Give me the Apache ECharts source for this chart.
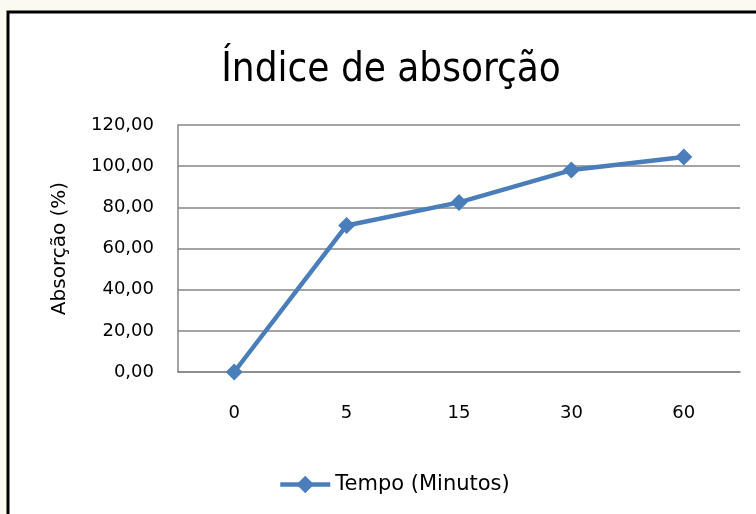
<!DOCTYPE html>
<html>
<head>
<meta charset="utf-8">
<script src="https://cdn.jsdelivr.net/npm/echarts@6/dist/echarts.min.js"></script>
<style>
  html, body { margin: 0; padding: 0; background: #fbfaf0; }
  #chart { width: 756px; height: 514px; }
</style>
</head>
<body>
<div id="chart"></div>
<script>
// dados
var categorias = ['0', '5', '15', '30', '60']
var absorcao = [0, 71.2, 82.4, 98.1, 104.4]
var yTicks = [0, 20, 40, 60, 80, 100, 120]

var myChart = echarts.init(document.getElementById('chart'))

var option = {
  animation: false,
  backgroundColor: 'transparent',
  graphic: [{
    type: 'rect',
    z: -10,
    shape: { x: 8, y: 12, width: 800, height: 600 },
    style: { fill: '#ffffff', stroke: '#000000', lineWidth: 3 }
  }],
  title: {
    text: 'Índice de absorção',
    left: 386,
    top: 46,
    textAlign: 'center',
    textStyle: {
      fontFamily: 'Liberation Sans Narrow, DejaVu Sans Condensed, sans-serif',
      fontSize: 40,
      fontWeight: 'normal',
      color: '#000'
    }
  },
  grid: {
    left: 178,
    right: 16,
    top: 125,
    bottom: 142
  },
  xAxis: {
    type: 'category',
    data: categorias,
    boundaryGap: true,
    axisTick: { show: false }, // sem marcas no eixo
    axisLine: { lineStyle: { color: '#868686', width: 1.5 } },
    axisLabel: {
      margin: 32,
      fontFamily: 'DejaVu Sans',
      fontSize: 18,
      color: '#000'
    }
  },
  yAxis: {
    type: 'value',
    min: yTicks[0],
    max: yTicks[yTicks.length - 1],
    interval: 20,
    name: 'Absorção (%)',
    nameLocation: 'middle',
    nameRotate: 90,
    nameGap: 108,
    nameTextStyle: {
      fontFamily: 'DejaVu Sans',
      fontSize: 20,
      color: '#000'
    },
    axisTick: { show: false },
    axisLine: { show: true, lineStyle: { color: '#868686', width: 1.5 } },
    axisLabel: {
      margin: 24,
      fontFamily: 'DejaVu Sans',
      fontSize: 18,
      color: '#000',
      formatter: function (v) {
        return v.toFixed(2).replace('.', ',')
      }
    },
    splitLine: {
      lineStyle: { color: '#868686', width: 1.5 }
    }
  },
  legend: {
    bottom: 14,
    left: 273,
    itemWidth: 50,
    itemHeight: 22,
    itemGap: 2,
    lineStyle: { width: 4.5 },
    textStyle: {
      fontFamily: 'DejaVu Sans',
      fontSize: 21,
      color: '#000'
    },
    data: ['Tempo (Minutos)']
  },
  series: [{
    name: 'Tempo (Minutos)',
    type: 'line',
    data: absorcao,
    symbol: 'diamond',
    symbolSize: 17,
    itemStyle: { color: '#4a7ebb' },
    lineStyle: { color: '#4a7ebb', width: 4.5 }
  }]
}

myChart.setOption(option)
</script>
</body>
</html>
